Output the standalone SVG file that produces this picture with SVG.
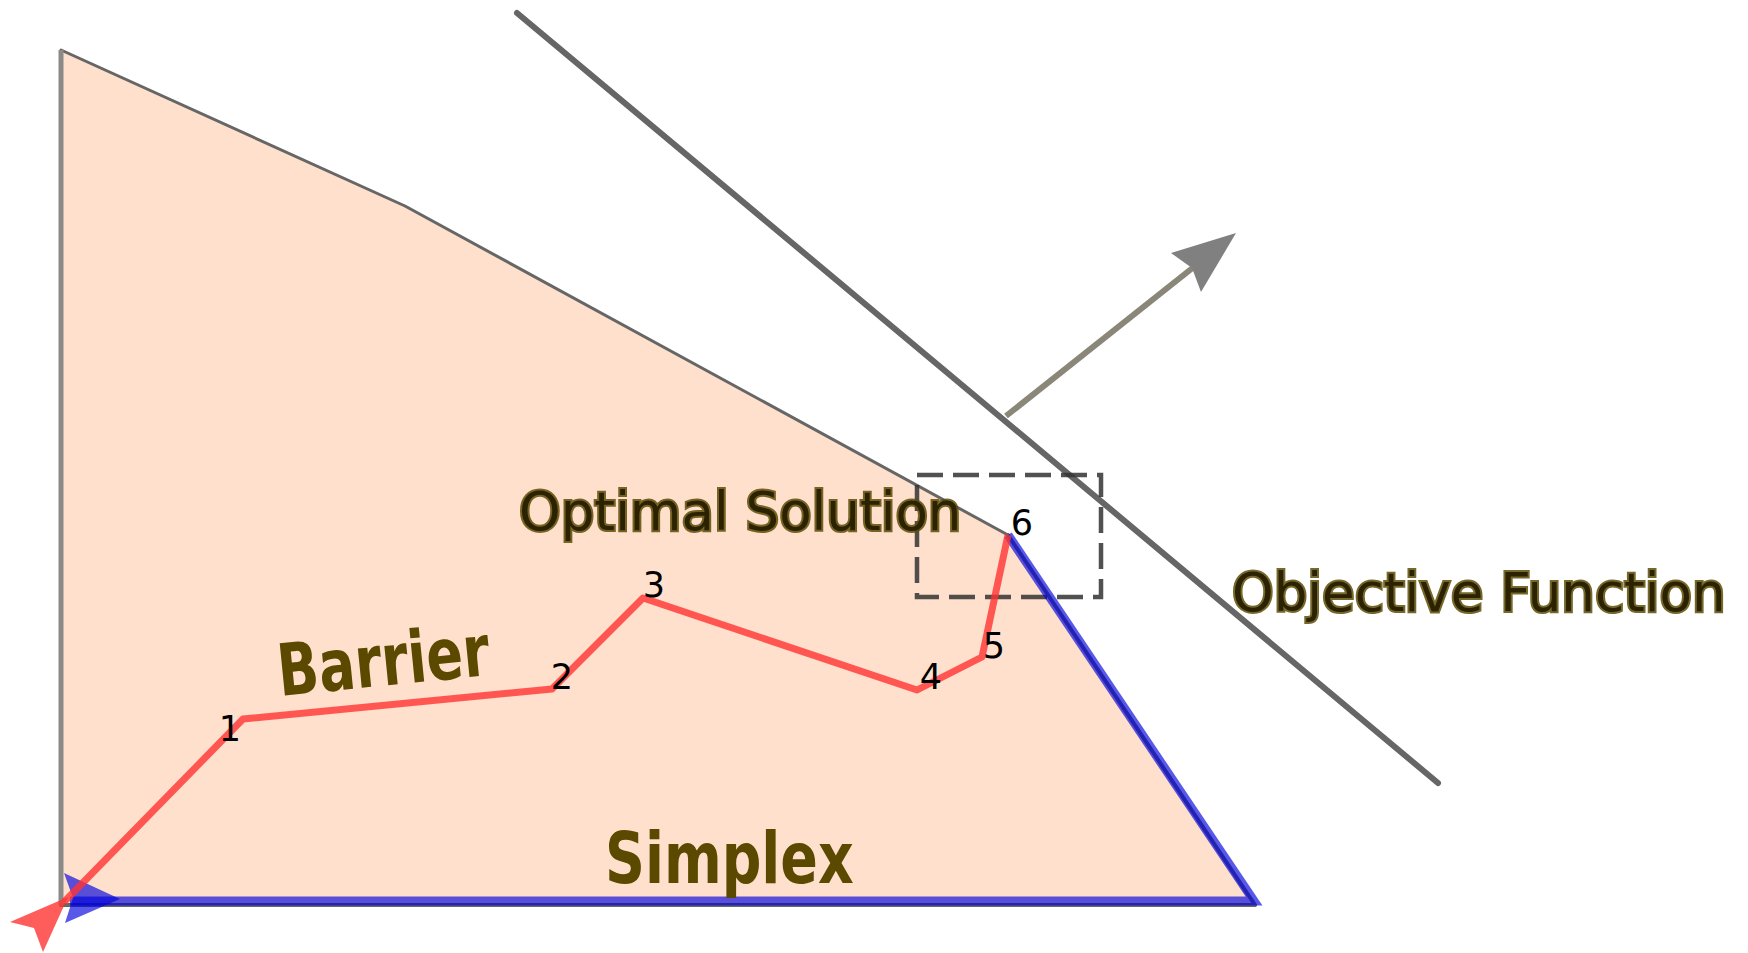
<svg xmlns="http://www.w3.org/2000/svg" width="1748" height="953" viewBox="0 0 1748 953">
<style>
.edge{fill:none;stroke:#666;stroke-linecap:round;stroke-linejoin:round}
.big{font-family:"DejaVu Sans","Liberation Sans",sans-serif;font-weight:bold;font-size:72px;fill:#5b4900}
.lbl{font-family:"DejaVu Sans","Liberation Sans",sans-serif;font-size:53px;fill:#2a2200;stroke:#5e4c05;stroke-width:4;stroke-opacity:0.85;paint-order:stroke}
.num{font-family:"DejaVu Sans","Liberation Sans",sans-serif;font-size:35px;fill:#000;text-anchor:middle}
.red{fill:none;stroke:#ff3333;stroke-opacity:0.8;stroke-width:7;stroke-linejoin:round}
.blue{fill:none;stroke:#0000dd;stroke-opacity:0.65;stroke-width:9;stroke-linejoin:miter}
</style>
<rect width="1748" height="953" fill="#fff"/>
<g id="feasible-region">
<polygon points="61,50 405,206 1008,535 1255,905 61,905" fill="#ffe0cc"/>
<polyline class="edge" points="61,50 405,206 1008,535" stroke-width="3"/>
<polyline class="edge" points="1008,535 1255,905 61,905" stroke-width="4"/>
<line x1="61" y1="50" x2="61" y2="905" stroke="#8a8a8a" stroke-width="5"/>
</g>
<g id="objective-function-line">
<line x1="517" y1="13" x2="1438" y2="783" stroke="#666" stroke-width="6" stroke-linecap="round"/>
</g>
<g id="objective-direction-arrow">
<line x1="1006" y1="416" x2="1195" y2="266" stroke="#8a8678" stroke-width="6"/>
<polygon points="1236,233 1171,253 1192,268 1201,292" fill="#808080"/>
</g>
<g id="optimal-box">
<rect x="917" y="475" width="184" height="122" fill="none" stroke="#333" stroke-opacity="0.85" stroke-width="4.5" stroke-dasharray="26 10"/>
</g>
<g id="connectors">
<g id="simplex-path">
<polyline class="blue" points="1008,535 1254,901 70,901"/>
<path d="M120,899 L64,873 L73,898 L65,923 Z" fill="#0000dd" fill-opacity="0.65"/>
</g>
<g id="barrier-path">
<polyline class="red" points="64,902 243,719 552,689 643,598 917,690 982,657 1008,535"/>
<path d="M68,897 L10,922 L34,928 L43,952 Z" fill="#ff3333" fill-opacity="0.8"/>
</g>
</g>
<g id="label-barrier"><text class="big" transform="translate(280,696) rotate(-5.7) scale(0.75,1)">Barrier</text></g>
<g id="label-simplex"><text class="big" transform="translate(605,883) scale(0.77,1)">Simplex</text></g>
<g id="label-optimal"><text class="lbl" x="519" y="530">Optimal Solution</text></g>
<g id="label-objective"><text class="lbl" x="1232" y="611">Objective Function</text></g>
<g id="iterates">
<text class="num" x="230" y="741">1</text>
<text class="num" x="562" y="689">2</text>
<text class="num" x="654" y="597">3</text>
<text class="num" x="931" y="689">4</text>
<text class="num" x="994" y="658">5</text>
<text class="num" x="1022" y="535">6</text>
</g>
</svg>
